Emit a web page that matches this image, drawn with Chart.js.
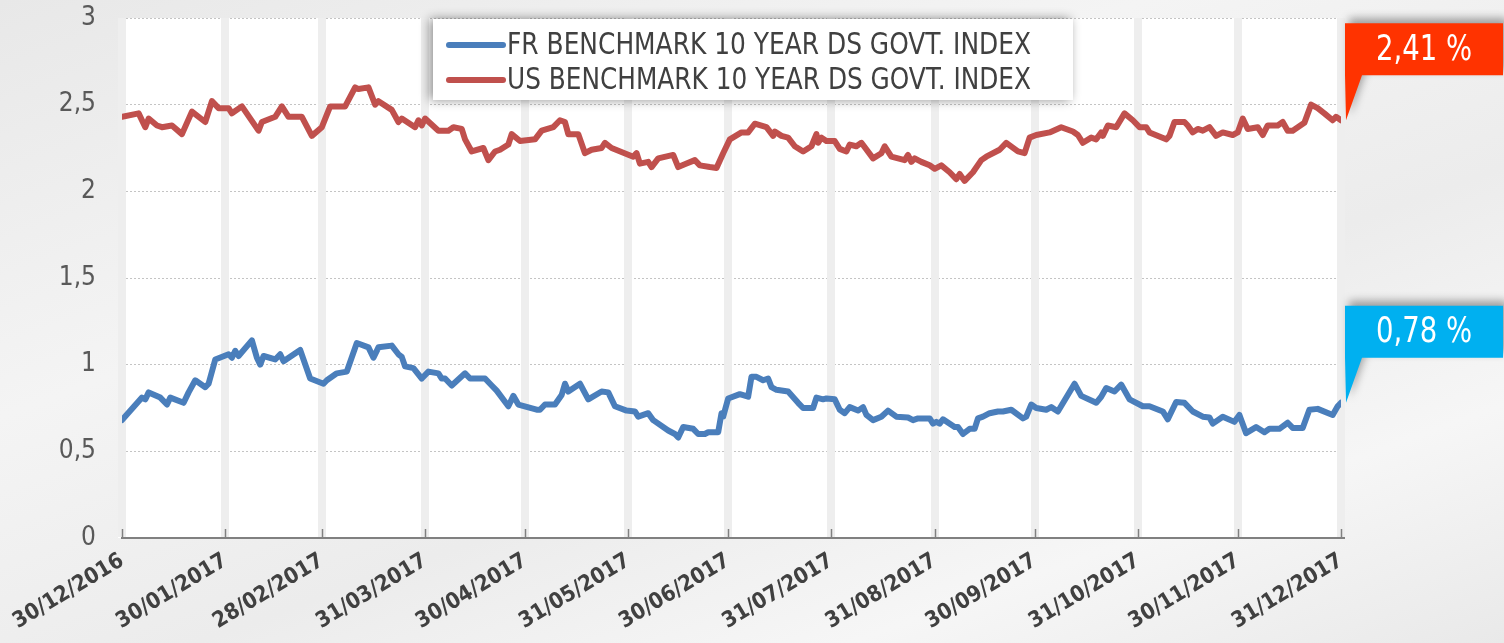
<!DOCTYPE html>
<html>
<head>
<meta charset="utf-8">
<script src="https://cdn.jsdelivr.net/npm/chart.js@4.4.1/dist/chart.umd.min.js"></script>
<style>
  html, body { margin: 0; padding: 0; }
  body {
    width: 1504px; height: 643px; overflow: hidden;
    background: linear-gradient(160deg, #e8e8e8 0%, #f4f4f4 35%, #ececec 60%, #f6f6f6 80%, #e9e9e9 100%);
  }
  #wrap { position: relative; width: 1504px; height: 643px; }
</style>
</head>
<body>
<div id="wrap"><canvas id="yields" width="1504" height="643"></canvas></div>
<script>
const FONT = "'Liberation Sans Narrow', 'DejaVu Sans Condensed', sans-serif";

// x = days since 30/12/2016
const tickDays = [0, 31, 60, 91, 121, 152, 182, 213, 244, 274, 305, 335, 366];
const tickLabels = ['30/12/2016', '30/01/2017', '28/02/2017', '31/03/2017', '30/04/2017', '31/05/2017',
  '30/06/2017', '31/07/2017', '31/08/2017', '30/09/2017', '31/10/2017', '30/11/2017', '31/12/2017'];

const seriesNames = ['FR BENCHMARK 10 YEAR DS GOVT. INDEX', 'US BENCHMARK 10 YEAR DS GOVT. INDEX'];

const frDays = [0, 6, 7, 8, 11.5, 13.5, 14.5, 18.5, 20, 22,
  25, 26, 28, 32, 33, 34, 35, 39, 40.5, 41.5,
  42.5, 46, 47.5, 48.5, 53.5, 56.5, 60.5, 61.5, 64.5, 67.5,
  70.5, 74, 75.5, 77, 81, 83, 84, 85, 87.5, 90,
  92, 95, 96, 97, 99, 103, 104.5, 109, 111, 112.5,
  116, 117.5, 119, 124.5, 125.5, 127, 130, 132, 133, 134,
  137.5, 140, 144, 146, 148, 151.5, 154, 155, 158, 159.5,
  164, 166, 167, 168.5, 171.5, 173, 175, 176, 179, 180,
  180.5, 182, 185.5, 188, 189, 190.5, 192.5, 194, 195, 196.5,
  200, 203, 204.5, 207.5, 208.5, 210.5, 211.5, 214, 215.5, 217,
  218.5, 221, 222.5, 223.5, 225.5, 228, 230, 232.5, 236, 237.5,
  239, 242.5, 243.5, 244.5, 245.5, 246.5, 250, 251, 252.5, 254.5,
  256, 257, 258.5, 260.5, 263, 264.5, 267, 270.5, 271.5, 273,
  274.5, 277.5, 279, 281, 286, 288, 292.5, 294, 295.5, 298,
  300, 302.5, 306.5, 308.5, 312.5, 314, 316.5, 319, 321.5, 324.5,
  326.5, 327.5, 330.5, 334, 335.5, 337.5, 340.5, 343, 344.5, 347.5,
  350, 351.5, 354.5, 356.5, 359, 363.5, 365, 366];
const frValues = [0.68, 0.81, 0.80, 0.84, 0.81, 0.77, 0.81, 0.78, 0.84, 0.91,
  0.87, 0.89, 1.03, 1.06, 1.04, 1.08, 1.05, 1.14, 1.04, 1.00,
  1.05, 1.03, 1.06, 1.02, 1.085, 0.92, 0.89, 0.91, 0.95, 0.96,
  1.125, 1.10, 1.04, 1.10, 1.11, 1.06, 1.045, 0.99, 0.98, 0.92,
  0.96, 0.95, 0.92, 0.92, 0.88, 0.95, 0.92, 0.92, 0.88, 0.85,
  0.76, 0.82, 0.77, 0.74, 0.74, 0.77, 0.77, 0.825, 0.89, 0.845,
  0.89, 0.80, 0.845, 0.84, 0.76, 0.735, 0.73, 0.70, 0.72, 0.68,
  0.62, 0.60, 0.58, 0.64, 0.63, 0.60, 0.60, 0.61, 0.61, 0.72,
  0.70, 0.805, 0.83, 0.815, 0.93, 0.93, 0.91, 0.92, 0.87, 0.855,
  0.845, 0.78, 0.75, 0.75, 0.81, 0.80, 0.805, 0.80, 0.74, 0.72,
  0.755, 0.735, 0.755, 0.71, 0.68, 0.70, 0.735, 0.70, 0.695, 0.68,
  0.69, 0.69, 0.66, 0.67, 0.66, 0.685, 0.64, 0.64, 0.60, 0.63,
  0.63, 0.69, 0.70, 0.72, 0.73, 0.73, 0.74, 0.69, 0.70, 0.77,
  0.75, 0.74, 0.755, 0.73, 0.89, 0.82, 0.78, 0.815, 0.865, 0.845,
  0.885, 0.80, 0.76, 0.76, 0.73, 0.685, 0.785, 0.78, 0.73, 0.70,
  0.695, 0.66, 0.70, 0.67, 0.71, 0.605, 0.64, 0.61, 0.63, 0.63,
  0.665, 0.635, 0.635, 0.74, 0.745, 0.71, 0.76, 0.78];

const usDays = [0, 5, 7, 8, 10.5, 12, 15, 18, 21, 25,
  27, 29, 32, 33, 36, 41, 42, 46, 48, 50,
  54, 57, 60, 62.5, 67, 70, 71, 74, 76, 77,
  81, 83, 84, 88, 89, 90, 91, 95, 98, 99.5,
  102, 103, 105, 108.5, 110, 112, 113.5, 116, 117, 119.5,
  124, 126, 129.5, 131.5, 133, 134, 137, 139, 141, 144,
  145, 147, 153.5, 154.5, 155.5, 158, 159, 161, 165.5, 167,
  169.5, 172, 173.5, 176.5, 178.5, 180.5, 182.5, 186, 188, 190,
  193.5, 195.5, 196, 198, 200, 202, 204.5, 207, 208.5, 209,
  210, 211.5, 214, 215.5, 217.5, 218.5, 220.5, 222, 225.5, 228,
  229, 231, 235, 236, 237, 238, 240, 242.5, 244, 246,
  248.5, 250.5, 251.5, 253, 255.5, 258, 259.5, 263.5, 265.5, 269,
  271, 272.5, 274.5, 278.5, 282, 285.5, 287, 288.5, 291, 292.5,
  294, 294.5, 296, 298.5, 301, 303.5, 305.5, 307.5, 308.5, 313.5,
  314.5, 316, 319, 320, 321.5, 323, 324.5, 326.5, 328.5, 330.5,
  333.5, 335, 336.5, 338, 341, 342.5, 344, 347, 348.5, 350,
  351.5, 355, 357, 359, 361, 363.5, 364.5, 366];
const usValues = [2.43, 2.45, 2.37, 2.42, 2.38, 2.37, 2.38, 2.33, 2.46, 2.40,
  2.52, 2.48, 2.48, 2.45, 2.49, 2.35, 2.40, 2.43, 2.49, 2.43,
  2.43, 2.32, 2.37, 2.49, 2.49, 2.60, 2.59, 2.60, 2.50, 2.52,
  2.47, 2.40, 2.42, 2.37, 2.41, 2.38, 2.42, 2.35, 2.35, 2.37,
  2.36, 2.30, 2.23, 2.25, 2.18, 2.23, 2.24, 2.27, 2.33, 2.29,
  2.30, 2.35, 2.37, 2.41, 2.40, 2.33, 2.33, 2.22, 2.24, 2.25,
  2.28, 2.25, 2.20, 2.22, 2.16, 2.17, 2.14, 2.19, 2.21, 2.14,
  2.16, 2.18, 2.15, 2.14, 2.135, 2.22, 2.30, 2.34, 2.34, 2.39,
  2.37, 2.32, 2.345, 2.32, 2.31, 2.26, 2.23, 2.26, 2.33, 2.28,
  2.31, 2.29, 2.29, 2.245, 2.23, 2.27, 2.26, 2.28, 2.19, 2.22,
  2.26, 2.20, 2.18, 2.21, 2.17, 2.19, 2.17, 2.15, 2.13, 2.15,
  2.11, 2.07, 2.10, 2.06, 2.11, 2.18, 2.20, 2.24, 2.28, 2.23,
  2.22, 2.31, 2.325, 2.34, 2.37, 2.345, 2.325, 2.28, 2.31, 2.30,
  2.34, 2.32, 2.38, 2.37, 2.45, 2.41, 2.37, 2.37, 2.34, 2.30,
  2.32, 2.40, 2.40, 2.38, 2.34, 2.36, 2.35, 2.37, 2.32, 2.34,
  2.325, 2.34, 2.42, 2.36, 2.37, 2.325, 2.38, 2.38, 2.40, 2.35,
  2.35, 2.395, 2.50, 2.48, 2.45, 2.41, 2.43, 2.41];

const lineColors = ['#4a7ebb', '#c0504d'];
const calloutColors = ['#00b0f0', '#ff3300'];

const toPoints = (days, vals) => days.map((d, i) => ({ x: d, y: vals[i] }));
const comma = v => String(v).replace('.', ',');

// draw text squeezed horizontally to a given width (narrow look)
function squeezeText(ctx, text, x, y, width) {
  const w = ctx.measureText(text).width;
  const sx = Math.min(1, width / w);
  ctx.save();
  ctx.translate(x, y);
  ctx.scale(sx, 1);
  ctx.fillText(text, 0, 0);
  ctx.restore();
}

// white plotting area
const plotBg = {
  id: 'plotBg',
  beforeDraw(chart) {
    const { ctx, chartArea: a } = chart;
    ctx.save();
    ctx.fillStyle = '#ffffff';
    ctx.fillRect(a.left - 4, a.top, a.right - a.left + 4, a.bottom - a.top);
    ctx.restore();
  }
};

// little tick marks pointing up from the date axis
const upTicks = {
  id: 'upTicks',
  afterDraw(chart) {
    const { ctx, chartArea: a, scales } = chart;
    ctx.save();
    ctx.strokeStyle = '#808080';
    ctx.lineWidth = 1.5;
    tickDays.forEach(d => {
      const px = Math.round(scales.x.getPixelForValue(d)) + 0.5;
      ctx.beginPath();
      ctx.moveTo(px, a.bottom);
      ctx.lineTo(px, a.bottom - 9);
      ctx.stroke();
    });
    ctx.restore();
  }
};

const boxLegend = {
  id: 'boxLegend',
  afterDraw(chart) {
    const { ctx } = chart;
    ctx.save();
    ctx.shadowColor = 'rgba(0,0,0,0.45)';
    ctx.shadowBlur = 10;
    ctx.shadowOffsetX = -3;
    ctx.fillStyle = '#ffffff';
    ctx.fillRect(433, 19, 640, 81);
    ctx.shadowColor = 'transparent';
    ctx.font = '31px ' + FONT;
    ctx.textBaseline = 'middle';
    ctx.lineCap = 'round';
    ctx.lineWidth = 6;
    const rows = [45, 80];
    seriesNames.forEach((name, i) => {
      ctx.strokeStyle = lineColors[i];
      ctx.beginPath();
      ctx.moveTo(449, rows[i]);
      ctx.lineTo(503, rows[i]);
      ctx.stroke();
      ctx.fillStyle = '#404040';
      squeezeText(ctx, name, 507, rows[i] + 1, 524);
    });
    ctx.restore();
  }
};

// value callouts at the end of each series
const callouts = {
  id: 'callouts',
  afterDraw(chart) {
    const { ctx } = chart;
    chart.data.datasets.forEach((ds, i) => {
      const meta = chart.getDatasetMeta(i);
      const last = meta.data[meta.data.length - 1];
      const tipX = last.x + 5, tipY = last.y;
      const left = tipX - 1, top = tipY - 97, w = 158, h = 52;
      ctx.save();
      ctx.shadowColor = 'rgba(0,0,0,0.35)';
      ctx.shadowBlur = 8;
      ctx.shadowOffsetX = 4;
      ctx.shadowOffsetY = -5;
      ctx.fillStyle = calloutColors[i];
      ctx.beginPath();
      ctx.moveTo(left, top);
      ctx.lineTo(left + w, top);
      ctx.lineTo(left + w, top + h);
      ctx.lineTo(left + 17, top + h);
      ctx.lineTo(tipX, tipY);
      ctx.lineTo(left, top + h);
      ctx.closePath();
      ctx.fill();
      ctx.shadowColor = 'transparent';
      ctx.fillStyle = '#ffffff';
      ctx.font = '36px ' + FONT;
      ctx.textBaseline = 'middle';
      const v = ds.data[ds.data.length - 1].y;
      const txt = v.toFixed(2).replace('.', ',') + ' %';
      squeezeText(ctx, txt, left + w / 2 - 48, top + h / 2 + 1, 96);
      ctx.restore();
    });
  }
};

new Chart(document.getElementById('yields'), {
  type: 'line',
  data: {
    datasets: [
      { label: seriesNames[0], data: toPoints(frDays, frValues), borderColor: lineColors[0] },
      { label: seriesNames[1], data: toPoints(usDays, usValues), borderColor: lineColors[1] }
    ]
  },
  options: {
    responsive: false,
    animation: false,
    elements: {
      line: { borderWidth: 6, tension: 0, borderJoinStyle: 'round', borderCapStyle: 'round' },
      point: { radius: 0, hoverRadius: 0 }
    },
    layout: { autoPadding: false, padding: { left: 0, top: 18, right: 163, bottom: 0 } },
    plugins: { legend: { display: false }, tooltip: { enabled: false } },
    scales: {
      x: {
        type: 'linear',
        min: 0,
        max: 366,
        afterBuildTicks: s => { s.ticks = tickDays.map(v => ({ value: v })); },
        afterFit: s => { s.height = 105; },
        grid: { color: '#eeeeee', lineWidth: 8, drawTicks: false, z: -1 },
        border: { display: true, color: '#808080', width: 2 },
        ticks: {
          autoSkip: false,
          minRotation: 31,
          maxRotation: 31,
          padding: 10,
          color: '#404040',
          font: { family: FONT, size: 22, weight: 'bold' },
          callback: v => tickLabels[tickDays.indexOf(v)]
        }
      },
      y: {
        min: 0,
        max: 3,
        afterFit: s => { s.width = 122; },
        // invisible tick marks push the labels away from the plot
        grid: { color: '#c4c4c4', lineWidth: 1, drawTicks: true, tickLength: 26, tickColor: 'rgba(0,0,0,0)', z: -2 },
        border: { display: false, dash: [2, 2] },
        ticks: {
          stepSize: 0.5,
          padding: 0,
          color: '#595959',
          font: { family: FONT, size: 26 },
          callback: v => comma(v)
        }
      }
    }
  },
  plugins: [plotBg, upTicks, boxLegend, callouts]
});
</script>
</body>
</html>
